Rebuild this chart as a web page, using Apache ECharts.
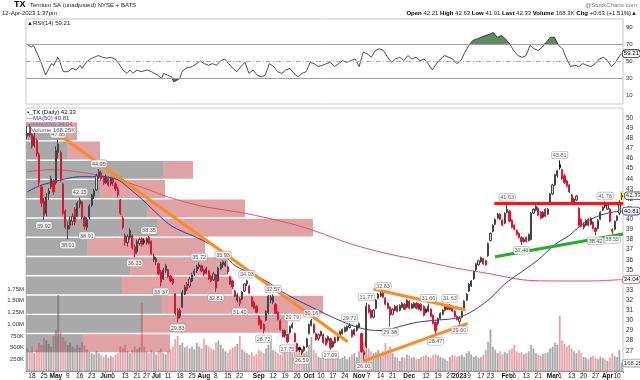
<!DOCTYPE html>
<html><head><meta charset="utf-8">
<script src="https://cdn.jsdelivr.net/npm/echarts/dist/echarts.min.js"></script>
<style>html,body{margin:0;padding:0;background:#fff}#c{width:640px;height:380px}</style>
</head><body><div id="c"></div>
<script>
// ---------- categories ----------
const startDate = '2022-04-13', endDate = '2023-04-12';
const holidays = ['2022-04-15','2022-05-30','2022-06-20','2022-07-04','2022-09-05','2022-11-24','2022-12-26','2023-01-02','2023-01-16','2023-02-20','2023-04-07'];
const xLabels = {'2022-04-18':'18','2022-04-25':'25','2022-05-02':'May','2022-05-09':'9','2022-05-16':'16','2022-05-23':'23','2022-06-01':'Jun','2022-06-06':'6','2022-06-13':'13','2022-06-21':'21','2022-06-27':'27','2022-07-01':'Jul','2022-07-11':'11','2022-07-18':'18','2022-07-25':'25','2022-08-01':'Aug','2022-08-08':'8','2022-08-15':'15','2022-08-22':'22','2022-09-01':'Sep','2022-09-12':'12','2022-09-19':'19','2022-09-26':'26','2022-10-03':'Oct','2022-10-10':'10','2022-10-17':'17','2022-10-24':'24','2022-11-01':'Nov','2022-11-07':'7','2022-11-14':'14','2022-11-21':'21','2022-12-01':'Dec','2022-12-12':'12','2022-12-19':'19','2022-12-27':'27','2023-01-03':'2023','2023-01-09':'9','2023-01-17':'17','2023-01-23':'23','2023-02-01':'Feb','2023-02-06':'6','2023-02-13':'13','2023-02-21':'21','2023-03-01':'Mar','2023-03-06':'6','2023-03-13':'13','2023-03-20':'20','2023-03-27':'27','2023-04-03':'Apr','2023-04-10':'10'};
const monthNames = ['May','Jun','Jul','Aug','Sep','Oct','Nov','Dec','2023','Feb','Mar','Apr'];

// ---------- daily OHLC [open, high, low, close] ----------
const ohlc = [
[48.2,49.2,47.9,48.9],[48.8,49.4,48.1,48.3],[48.4,48.9,47.0,47.2],[47.3,48.6,47.1,48.2],[47.8,48.0,46.2,46.5],
[46.4,46.6,43.4,43.6],[43.2,43.4,41.2,41.6],[41.8,42.1,39.92,40.4],[40.6,42.6,40.3,42.2],[42.5,43.1,41.9,42.8],
[43.2,44.3,43.0,44.0],[43.8,44.0,42.4,42.7],[43.6,47.2,43.4,46.8],[46.6,47.85,46.0,47.4],[46.6,46.8,43.7,44.0],
[43.5,43.6,40.4,40.6],[40.8,41.0,39.0,39.2],[39.0,39.8,38.01,39.4],[39.4,40.3,39.0,39.9],[39.8,40.6,39.4,40.3],
[41.0,41.2,39.4,39.7],[40.3,41.8,40.2,41.6],[41.5,42.15,41.1,41.9],[41.7,41.8,40.0,40.2],[40.2,40.3,39.0,39.3],
[39.2,40.2,38.91,40.0],[40.2,41.5,40.0,41.3],[41.4,42.5,41.2,42.4],[42.3,43.0,42.0,42.8],[42.9,44.5,42.8,44.3],
[44.3,44.95,44.0,44.7],[44.6,44.8,43.8,44.0],[44.2,44.3,43.4,43.6],[43.6,44.4,43.5,44.1],[44.0,44.2,43.2,43.4],
[43.5,44.2,43.3,44.0],[44.0,44.1,43.3,43.6],[43.5,43.7,42.8,43.0],[43.0,43.2,42.2,42.4],[41.9,42.0,40.4,40.6],
[40.1,40.3,39.0,39.2],[38.4,38.6,37.4,37.7],[37.7,38.5,37.3,38.3],[38.2,39.1,38.0,38.9],[38.4,38.5,37.0,37.2],
[37.3,37.5,36.23,36.6],[36.8,38.0,36.6,37.8],[37.6,38.2,37.4,38.0],[38.1,38.2,37.3,37.5],[37.9,38.1,37.5,37.7],
[37.7,38.2,37.5,38.1],[38.2,38.35,37.5,37.6],[37.8,37.9,36.5,36.6],[36.0,36.6,35.8,36.3],[35.8,36.3,35.5,36.1],
[35.6,35.7,34.5,34.6],[34.8,35.0,33.37,33.8],[34.1,35.2,34.0,35.0],[34.9,35.6,34.7,35.4],[35.0,35.1,34.2,34.3],
[34.4,34.5,33.8,33.9],[34.1,34.2,33.5,33.7],[32.6,32.7,30.5,30.7],[31.0,31.2,29.83,30.2],[30.4,31.2,30.2,31.0],
[31.3,33.0,31.2,32.8],[32.6,33.5,32.5,33.3],[33.6,33.8,32.9,33.1],[33.4,34.3,33.2,34.1],[33.9,34.7,33.8,34.5],
[34.6,35.1,34.4,34.9],[34.9,35.5,34.7,35.3],[35.3,35.72,35.1,35.5],[35.4,35.5,34.8,34.9],[35.0,35.1,34.4,34.6],
[34.7,35.3,34.6,35.1],[34.9,35.0,34.0,34.1],[34.4,34.5,33.8,33.9],[34.0,34.8,33.9,34.6],[34.5,34.6,32.81,33.2],
[33.9,35.3,33.8,35.2],[35.1,35.8,35.0,35.6],[35.5,35.93,35.2,35.8],[35.4,35.9,35.3,35.7],[35.3,35.4,34.6,34.8],
[34.3,34.4,33.5,33.6],[33.9,34.0,33.1,33.3],[32.9,33.0,32.3,32.4],[32.0,32.7,31.8,32.5],[32.1,32.3,31.40,31.7],
[32.1,32.9,32.0,32.8],[32.9,33.7,32.8,33.6],[33.6,34.03,33.4,33.9],[33.4,33.5,32.6,32.7],[32.3,32.4,31.3,31.4],
[31.8,31.9,31.1,31.2],[31.4,31.5,30.7,30.8],[30.4,30.5,29.5,29.6],[30.0,30.1,29.1,29.2],[29.6,29.7,28.72,29.0],
[30.0,31.0,29.9,30.9],[30.8,32.5,30.6,32.4],[32.0,32.5,31.7,32.3],[31.8,32.57,31.6,32.4],[31.6,31.7,30.6,30.7],
[30.8,30.9,30.0,30.1],[30.0,30.1,29.0,29.1],[29.0,29.1,28.3,28.4],[28.5,29.1,28.3,29.0],[28.6,28.7,27.75,27.9],
[28.8,29.5,28.6,29.4],[29.3,29.79,29.2,29.6],[28.7,28.8,27.8,27.9],[27.7,27.8,26.9,27.0],[27.3,27.4,26.9,27.1],
[27.1,27.2,26.59,26.8],[27.0,27.5,26.9,27.4],[27.4,28.3,27.3,28.2],[28.7,29.7,28.6,29.6],[29.5,30.16,29.4,30.0],
[29.6,29.7,28.7,28.8],[28.7,28.8,28.0,28.1],[28.2,28.7,28.0,28.6],[28.5,29.0,28.4,28.9],[28.6,28.7,27.7,27.8],
[28.2,28.3,27.5,27.6],[28.0,28.5,27.8,28.4],[28.2,28.3,27.09,27.3],[27.4,28.0,27.3,27.9],[28.3,28.4,27.7,27.8],
[28.0,28.6,27.9,28.5],[28.5,29.0,28.3,28.9],[28.7,29.2,28.6,29.1],[28.9,29.4,28.8,29.3],[29.0,29.5,28.9,29.4],
[29.3,29.72,29.2,29.5],[29.0,29.1,28.3,28.4],[28.6,29.2,28.5,29.1],[29.0,29.6,28.9,29.5],[29.3,29.8,29.2,29.7],
[28.7,28.8,26.8,26.9],[26.9,27.1,26.01,26.6],[27.4,31.77,27.3,31.4],[31.5,31.6,30.7,30.8],[31.0,31.1,30.2,30.3],
[30.3,31.1,30.2,31.0],[31.2,32.1,31.1,32.0],[32.2,32.7,32.1,32.6],[32.4,32.8,32.3,32.7],[32.7,32.83,32.2,32.3],
[32.2,32.3,31.5,31.6],[31.7,31.8,31.1,31.2],[31.3,31.4,29.38,30.5],[30.6,31.2,30.5,31.1],[31.0,31.5,30.9,31.4],
[31.4,31.5,30.8,30.9],[31.0,31.6,30.9,31.5],[31.3,31.8,31.2,31.7],[31.6,31.7,31.0,31.1],[31.3,32.1,31.2,32.0],
[31.9,32.0,31.1,31.2],[31.2,31.7,31.1,31.6],[31.3,31.8,31.2,31.7],[31.7,31.8,31.1,31.2],[31.1,31.7,31.0,31.6],
[31.6,31.7,30.9,31.0],[31.4,31.5,30.4,30.5],[31.1,31.2,30.7,30.8],[30.9,31.66,30.8,31.4],[31.1,31.2,30.3,30.4],
[30.5,30.6,29.6,29.7],[29.8,29.9,28.47,29.0],[29.7,30.3,29.5,30.2],[30.2,30.8,30.1,30.7],[30.6,31.1,30.5,31.0],
[31.0,31.5,30.9,31.4],[31.4,31.5,31.0,31.1],[31.1,31.63,31.0,31.4],[31.3,31.4,30.8,30.9],[30.9,31.0,30.3,30.4],
[30.4,30.5,30.0,30.1],[29.9,30.4,29.60,30.2],[30.3,31.0,30.2,30.9],[31.2,32.0,31.1,31.9],[32.0,32.7,31.9,32.6],
[32.9,33.7,32.8,33.6],[33.4,34.0,33.3,33.9],[34.1,34.9,34.0,34.8],[35.0,35.7,34.9,35.6],[35.5,36.0,35.4,35.9],
[35.8,36.3,35.7,36.2],[36.1,36.2,35.5,35.6],[35.9,36.0,35.4,35.5],[36.4,37.7,36.3,37.6],[37.9,38.7,37.8,38.6],
[38.8,39.5,38.7,39.4],[39.5,40.1,39.4,40.0],[40.1,40.6,40.0,40.5],[40.5,40.6,39.9,40.0],[39.9,40.0,39.3,39.4],
[39.6,40.7,39.5,40.6],[40.7,41.63,40.6,41.0],[40.8,40.9,39.7,39.8],[39.9,40.0,39.1,39.2],[39.4,39.5,38.9,39.0],
[38.9,39.0,38.4,38.5],[38.6,38.7,38.1,38.2],[38.2,38.3,37.46,37.8],[37.8,38.2,37.7,38.0],[38.2,38.3,37.7,37.8],
[37.9,38.6,37.8,38.5],[38.0,40.7,37.9,40.6],[40.6,41.1,40.5,41.0],[40.9,41.4,40.8,41.3],[41.1,41.2,40.3,40.4],
[40.7,40.8,40.0,40.1],[40.2,40.8,40.1,40.7],[41.0,41.1,40.2,40.3],[40.5,41.1,40.4,41.0],[41.6,42.6,41.5,42.5],
[42.5,43.5,42.4,43.4],[43.4,44.5,43.3,44.4],[44.3,44.9,44.1,44.8],[45.4,45.81,44.9,45.1],[44.9,45.0,43.9,44.0],
[44.3,44.5,43.5,43.6],[43.8,43.9,43.2,43.3],[43.4,43.5,42.6,42.7],[42.4,42.5,41.4,41.5],[41.7,42.1,41.6,42.0],
[41.9,42.4,41.8,42.3],[41.1,41.2,39.3,39.4],[40.0,40.1,39.2,39.3],[39.2,39.7,39.0,39.5],[39.4,40.0,39.3,39.9],
[40.0,40.1,39.3,39.4],[39.5,40.2,39.4,40.1],[39.7,39.8,39.0,39.1],[39.1,39.2,38.42,38.8],[39.1,40.0,39.0,39.9],
[40.0,40.8,39.9,40.7],[40.9,41.3,40.8,41.2],[41.5,41.76,41.1,41.3],[41.0,41.5,40.9,41.4],[41.0,41.1,39.7,39.8],
[39.0,39.1,38.55,38.8],[39.0,39.9,38.9,39.8],[39.9,40.4,39.8,40.3],[40.6,41.9,40.4,41.7],[42.21,42.63,41.91,42.33]
];

// ---------- daily volume (thousands of shares) ----------
const volumeK = [
480,420,520,380,450,600,560,700,650,580, 520,750,870,1620,820,720,640,560,600,520,
480,560,500,620,540,460,400,380,350,420, 380,330,300,350,280,320,300,350,380,520,
480,560,420,380,450,520,460,500,1450,520, 420,380,450,400,350,420,480,380,350,420,
460,520,680,750,560,600,500,540,480,520, 460,600,520,480,690,560,520,480,450,600,
650,560,480,420,380,450,500,520,580,750, 460,420,380,350,400,320,360,450,420,380,
480,560,670,450,420,380,350,420,480,500, 420,380,450,500,420,480,380,420,560,720,
450,380,300,280,320,260,300,350,280,250, 300,260,280,320,250,300,350,380,300,420,
600,620,780,480,420,380,400,450,380,420, 600,450,520,380,300,280,220,300,280,350,
320,280,300,250,260,300,320,340,300,280, 340,360,330,300,280,250,220,300,340,330,
300,320,350,300,380,420,350,300,320,280, 300,340,450,620,880,520,450,380,420,350,
400,380,450,480,560,420,380,400,350,380, 420,560,480,380,350,320,360,380,400,480,
520,600,560,1180,650,580,520,560,480,420, 380,450,380,300,280,250,300,320,280,250,
300,280,250,220,280,380,320,300,450,168.25
];

// ---------- moving averages [dayIndex, value] ----------
const ma50Pts = [[0,42.7],[5,43.3],[11,43.7],[16,44.0],[22,44.2],[32,44.2],[38,43.9],[43,43.0],[48,42.0],[52,41.1],[56,40.2],[60,39.4],[65,38.8],[71,38.2],[76,37.6],[81,37.0],[86,35.6],[93,34.7],[100,33.9],[107,32.8],[114,31.9],[121,31.1],[128,30.3],[135,29.6],[142,29.1],[149,29.0],[156,29.4],[163,29.8],[170,30.0],[179,30.2],[184,30.6],[189,31.3],[194,32.2],[200,33.6],[207,34.8],[214,36.0],[221,37.5],[227,38.4],[233,39.6],[240,40.4],[245,40.7],[249,40.81]];
const ma200Pts = [[0,44.7],[10,44.9],[24,44.6],[38,43.9],[50,43.0],[59,42.2],[73,41.3],[91,40.6],[110,39.6],[121,38.8],[135,37.6],[149,36.7],[163,36.0],[179,35.2],[194,34.6],[208,34.0],[222,33.9],[236,33.9],[249,34.04]];

// ---------- RSI(14) [dayPosition, value] ----------
const rsiPts = [[0,70],[1.7,67],[2.6,69],[4.3,59],[6.0,47.5],[7.7,34],[8.5,32],[9.4,43.6],[10.2,47.5],[11.1,45.5],[12.8,55],[13.6,51],[14.5,42],[15.3,38],[17.1,38],[18.8,42],[20.5,40],[22.2,45.5],[23.0,42],[24.7,49],[26.4,53],[28.1,55],[29.8,57],[31.5,55],[33.2,54],[35.0,55],[36.7,53],[38.4,47.5],[40.1,40],[41.8,36],[43.1,40],[44.3,36],[46.0,40],[47.7,38],[50.3,40],[52.0,38],[54.6,34],[56.3,30],[57.1,36],[58.8,34],[60.5,32],[61.4,26],[62.2,28],[63.9,30],[64.8,38],[66.5,42],[69.1,44],[72.5,50.6],[74.2,47.5],[75.9,45.5],[77.6,47.5],[79.3,45.5],[81.0,51],[82.7,53],[84.4,47.5],[86.1,42],[87.8,38],[89.5,44],[91.2,49],[92.9,36],[94.6,40],[96.3,34],[98.0,32],[99.7,34],[101.4,47.5],[103.2,44],[104.9,38],[106.6,36],[108.3,40],[110.0,42],[111.7,36],[113.4,32],[115.1,36],[116.8,38],[118.5,49],[120.2,47.5],[121.9,44],[123.6,45.5],[125.3,47.5],[127.0,49],[128.7,44],[130.4,47.5],[132.1,51],[133.8,49],[135.5,51],[137.3,53],[139.0,44],[140.7,61],[142.4,59],[144.1,55],[145.8,63],[147.5,65],[149.2,63],[150.9,55],[152.6,49],[154.3,53],[156.0,55],[157.7,51],[159.4,57],[161.1,53],[162.8,55],[164.5,51],[166.2,53],[167.9,47.5],[169.6,40],[171.4,47.5],[173.1,53],[174.8,57],[176.5,55],[178.2,53],[179.9,47.5],[181.6,51],[183.3,61],[185.0,69],[186.7,75],[188.4,76.6],[190.1,78.5],[191.8,80.5],[193.5,82],[195.2,84],[196.9,78.5],[198.6,80.5],[200.3,76.6],[202.0,70.8],[203.7,63],[205.5,57],[207.2,55],[208.9,57],[210.6,69],[212.3,65],[214.0,63],[215.7,67],[217.4,72.7],[219.1,78.5],[220.8,78.5],[222.5,69],[224.2,65],[225.9,53],[227.6,44],[229.3,45.5],[231.0,44],[232.7,47.5],[234.4,45.5],[236.1,44],[237.8,47.5],[239.6,53],[241.3,55],[243.0,51],[244.7,44],[246.4,49],[248.1,57],[249.0,59.21]];

// ---------- volume-by-price bins ----------
const vbpLow  = [26.78,28.69,30.59,32.50,34.40,36.31,38.21,40.12,42.02,43.93,45.83,47.74];
const vbpHigh = [28.69,30.59,32.50,34.40,36.31,38.21,40.12,42.02,43.93,45.83,47.74,49.64];
const vbpUp   = [57,117,136,96,104,61,131,121,74,137,41,41];
const vbpDown = [87,145,161,110,98,118,156,98,65,30,33,10];

// ---------- swing labels [dayIndex, price, side] ----------
const swings = [[7,39.92,'b'],[13,47.85,'t'],[17,38.01,'b'],[22,42.15,'t'],[25,38.91,'b'],[30,44.95,'t'],[45,36.23,'b'],[51,38.35,'t'],[56,33.37,'b'],[63,29.83,'b'],[72,35.72,'t'],[79,32.81,'b'],[82,35.93,'t'],[89,31.40,'b'],[92,34.03,'t'],[99,28.72,'b'],[103,32.57,'t'],[109,27.75,'b'],[111,29.79,'t'],[115,26.59,'b'],[119,30.16,'t'],[127,27.09,'b'],[135,29.72,'t'],[141,26.01,'b'],[142,31.77,'t'],[149,32.83,'t'],[152,29.38,'b'],[168,31.66,'t'],[171,28.47,'b'],[177,31.63,'t'],[181,29.60,'b'],[201,41.63,'t'],[207,37.46,'b'],[223,45.81,'t'],[238,38.42,'b'],[242,41.76,'t'],[245,38.55,'b']];

// ---------- trend lines [dayPosition, price] ----------
const downTrend = [[13.9,48.26],[134.2,27.9]];
const riseLine  = [[140.9,26.0],[184.4,29.7]];
const fallLine  = [[145.0,33.1],[183.6,31.05]];
const resistance = [[195.6,41.55],[249.5,41.55]];
const support   = [[195.9,36.3],[249.5,38.55]];

const lastClose = 42.33, lastMA50 = 40.81, lastMA200 = 34.04, lastRSI = 59.21, lastVolK = 168.25;

// ---------- build ----------
const dates = [];
for (let d = new Date(startDate + 'T12:00:00Z'); d <= new Date(endDate + 'T12:00:00Z'); d.setUTCDate(d.getUTCDate() + 1)) {
  const wd = d.getUTCDay(), s = d.toISOString().slice(0, 10);
  if (wd === 0 || wd === 6 || holidays.includes(s)) continue;
  dates.push(s);
}
const N = dates.length;
const FONT = 'Liberation Sans, Arial, sans-serif';

const candleData = ohlc.map((r, i) => {
  const [o, h, l, c] = r;
  const prev = i > 0 ? ohlc[i - 1][3] : o;
  let fill, border;
  if (c >= o) { fill = '#d4d4d4'; border = '#444'; }
  else if (c >= prev) { fill = '#111'; border = '#111'; }
  else { fill = '#e3122f'; border = '#e3122f'; }
  return { value: [o, c, l, h], itemStyle: { color: fill, color0: fill, borderColor: border, borderColor0: border } };
});
const volData = volumeK.map((v, i) => {
  const r = ohlc[i];
  const up = r[3] >= r[0];
  return { value: v, itemStyle: { color: up ? 'rgba(110,110,110,0.5)' : 'rgba(215,70,85,0.42)', borderColor: up ? 'rgba(80,80,80,0.55)' : 'rgba(200,60,75,0.5)', borderWidth: 0.4 } };
});
const vbpData = vbpLow.map((lo, i) => [lo, vbpHigh[i], vbpUp[i], vbpDown[i]]);

const tagLabel = (txt, col) => ({
  show: true, formatter: txt, position: 'right', distance: 1,
  fontSize: 6, fontFamily: FONT, color: '#000', backgroundColor: '#fff',
  borderColor: col, borderWidth: 0.8, borderRadius: 3, padding: [1, 1, 0, 1]
});

const chart = echarts.init(document.getElementById('c'), null, { renderer: 'canvas' });
chart.setOption({
  animation: false,
  backgroundColor: '#fff',
  textStyle: { fontFamily: FONT },
  grid: [
    { left: 26, right: 17, top: 19, height: 85, show: true, borderColor: '#c8c8c8', borderWidth: 1 },
    { left: 26, right: 17, top: 108, height: 263, show: true, borderColor: '#c8c8c8', borderWidth: 1 },
    { left: 26, right: 17, top: 283, height: 88, show: false }
  ],
  xAxis: [
    { gridIndex: 0, type: 'value', min: -0.5, max: N - 0.5, show: false },
    { gridIndex: 1, type: 'category', data: dates, boundaryGap: true,
      axisLine: { show: true, lineStyle: { color: '#999', width: 1 } },
      axisTick: { show: true, length: 2, lineStyle: { color: '#999' }, interval: (i, v) => !!xLabels[v] },
      axisLabel: { interval: (i, v) => !!xLabels[v], margin: 2, fontSize: 6.5, color: '#222', fontFamily: FONT,
        formatter: v => { const t = xLabels[v] || ''; return monthNames.includes(t) ? '{b|' + t + '}' : t; },
        rich: { b: { fontWeight: 'bold', fontSize: 6.5, fontFamily: FONT, color: '#111' } } },
      splitLine: { show: false } },
    { gridIndex: 1, type: 'value', min: 0, max: 597, show: false },
    { gridIndex: 1, type: 'value', min: -0.5, max: N - 0.5, show: false },
    { gridIndex: 2, type: 'category', data: dates, show: false }
  ],
  yAxis: [
    { gridIndex: 0, type: 'value', min: 0, max: 100, interval: 10, position: 'right',
      axisLine: { show: false }, axisTick: { show: false }, splitLine: { show: false },
      axisLabel: { margin: 3, fontSize: 6, color: '#333', formatter: v => [10, 30, 50, 70, 90].includes(v) ? String(v) : '' } },
    { gridIndex: 1, type: 'value', min: 25, max: 51, interval: 1, position: 'right',
      axisLine: { show: false }, axisTick: { show: false }, splitLine: { show: false },
      axisLabel: { margin: 3, fontSize: 6.5, color: '#333', formatter: v => (v >= 27 && v <= 50) ? String(v) : '' } },
    { gridIndex: 2, type: 'value', min: 0, max: 1880, interval: 250, position: 'left',
      axisLine: { show: false }, axisTick: { show: false }, splitLine: { show: false },
      axisLabel: { margin: 2, fontSize: 6, color: '#333', formatter: v => (v === 0 || v > 1750) ? '' : (v >= 1000 ? (v / 1000).toFixed(2) + 'M' : v + 'K') } }
  ],
  series: [
    // RSI
    { type: 'line', xAxisIndex: 0, yAxisIndex: 0, data: rsiPts.map(p => [p[0], Math.max(p[1], 70)]), symbol: 'none',
      lineStyle: { width: 0 }, areaStyle: { origin: 70, color: '#5e8c5e', opacity: 1 }, z: 2, silent: true },
    { type: 'line', xAxisIndex: 0, yAxisIndex: 0, data: rsiPts.map(p => [p[0], Math.min(p[1], 30)]), symbol: 'none',
      lineStyle: { width: 0 }, areaStyle: { origin: 30, color: '#b44a4a', opacity: 1 }, z: 2, silent: true },
    { type: 'line', xAxisIndex: 0, yAxisIndex: 0, data: rsiPts, symbol: 'none',
      lineStyle: { color: '#222', width: 0.8 }, z: 4,
      endLabel: tagLabel(String(lastRSI.toFixed(2)), '#222'),
      markLine: { silent: true, symbol: 'none', label: { show: false },
        data: [ { yAxis: 70, lineStyle: { color: '#a0a0a0', type: 'solid', width: 1 } },
                { yAxis: 30, lineStyle: { color: '#a0a0a0', type: 'solid', width: 1 } },
                { yAxis: 50, lineStyle: { color: '#b0b0b0', type: [5, 2, 1, 2], width: 1 } } ] } },
    // Volume by price
    { type: 'custom', xAxisIndex: 2, yAxisIndex: 1, data: vbpData, z: 1, silent: true,
      encode: { x: 2, y: [0, 1] },
      renderItem: (params, api) => {
        const lo = api.value(0), hi = api.value(1), up = api.value(2), dn = api.value(3);
        const a = api.coord([0, hi]), b = api.coord([up, lo]), c = api.coord([up + dn, lo]);
        const y = a[1] + 0.6, h = b[1] - a[1] - 1.4;
        return { type: 'group', children: [
          { type: 'rect', shape: { x: a[0], y: y, width: b[0] - a[0], height: h }, style: { fill: '#a9a9a9' } },
          { type: 'rect', shape: { x: b[0], y: y, width: c[0] - b[0], height: h }, style: { fill: '#dfa3a6' } }
        ] };
      } },
    // Volume bars
    { type: 'bar', xAxisIndex: 4, yAxisIndex: 2, data: volData, barWidth: '72%', z: 2, silent: true },
    { type: 'scatter', xAxisIndex: 4, yAxisIndex: 2, data: [[N - 1, lastVolK]], symbolSize: 0, z: 6,
      label: tagLabel(lastVolK.toFixed(2) + 'K', '#888') },
    // Moving averages
    { type: 'line', xAxisIndex: 3, yAxisIndex: 1, data: ma200Pts, smooth: 0.3, symbol: 'none',
      lineStyle: { color: '#e0506e', width: 1 }, z: 3, endLabel: tagLabel(lastMA200.toFixed(2), '#e0506e') },
    { type: 'line', xAxisIndex: 3, yAxisIndex: 1, data: ma50Pts, smooth: 0.3, symbol: 'none',
      lineStyle: { color: '#3535a8', width: 1 }, z: 3, endLabel: tagLabel(lastMA50.toFixed(2), '#3535a8') },
    // Candles
    { type: 'candlestick', xAxisIndex: 1, yAxisIndex: 1, data: candleData, barWidth: '70%', z: 5 },
    // Trend lines
    ...[[downTrend, '#ff8a1e'], [riseLine, '#ff8a1e'], [fallLine, '#ff8a1e'], [resistance, '#f01818'], [support, '#22b022']].map(([pts, col]) => ({
      type: 'line', xAxisIndex: 3, yAxisIndex: 1, data: pts, symbol: 'none', z: 7, silent: true,
      lineStyle: { color: col, width: 3 } })),
    // last-price highlight and tag
    { type: 'scatter', xAxisIndex: 3, yAxisIndex: 1, data: [[N - 1, lastClose]], symbol: 'rect', symbolSize: [4, 9],
      itemStyle: { color: '#f5e14a' }, z: 4, label: tagLabel(lastClose.toFixed(2), '#222') },
    // swing labels
    { type: 'scatter', xAxisIndex: 3, yAxisIndex: 1, symbolSize: 0, z: 8, silent: true,
      data: swings.map(s => ({ value: [s[0], s[1]], label: { position: s[2] === 't' ? 'top' : 'bottom' } })),
      label: { show: true, distance: 2, formatter: p => p.value[1].toFixed(2), fontSize: 5.5, fontFamily: FONT, color: '#333',
        backgroundColor: '#fff', borderColor: '#9a9a9a', borderWidth: 0.6, borderRadius: 2, padding: [1, 1, 0, 1] } }
  ],
  graphic: [
    { type: 'text', left: 14, top: 0, z: 100, style: { text: 'TX', fontSize: 9, fontWeight: 'bold', fontFamily: FONT, fill: '#000' } },
    { type: 'text', left: 30, top: 2, z: 100, style: { text: 'Ternium SA (unadjusted) NYSE + BATS', fontSize: 6, fontFamily: FONT, fill: '#222' } },
    { type: 'text', left: 2, top: 10, z: 100, style: { text: '12-Apr-2023 1:37pm', fontSize: 6, fontFamily: FONT, fill: '#222' } },
    { type: 'text', right: 3, top: 2, z: 100, style: { text: '@StockCharts.com', fontSize: 6, fontFamily: FONT, fill: '#777' } },
    { type: 'text', right: 3, top: 10, z: 100, style: {
      text: '{b|Open} 42.21 {b|High} 42.63 {b|Low} 41.91 {b|Last} 42.33 {b|Volume} 168.3K {b|Chg} +0.63 (+1.51%)\u25B2',
      fontSize: 6, fontFamily: FONT, fill: '#222', rich: { b: { fontWeight: 'bold', fontSize: 6, fontFamily: FONT, fill: '#000' } } } },
    { type: 'text', left: 27, top: 20, z: 100, style: { text: '\u25B2RSI(14) 59.21', fontSize: 6, fontFamily: FONT, fill: '#222' } },
    { type: 'text', left: 27, top: 109, z: 100, style: { text: '\u25AA_TX (Daily) 42.33', fontSize: 6, fontFamily: FONT, fill: '#111' } },
    { type: 'text', left: 27, top: 115, z: 100, style: { text: '\u2014MA(50) 40.81', fontSize: 6, fontFamily: FONT, fill: '#3535a8' } },
    { type: 'text', left: 27, top: 121, z: 100, style: { text: '\u2014MA(200) 34.04', fontSize: 6, fontFamily: FONT, fill: '#e0506e' } },
    { type: 'text', left: 27, top: 127, z: 100, style: { text: '\u2590Volume 168.25K', fontSize: 6, fontFamily: FONT, fill: '#555', backgroundColor: '#fff' } }
  ]
});
</script></body></html>
